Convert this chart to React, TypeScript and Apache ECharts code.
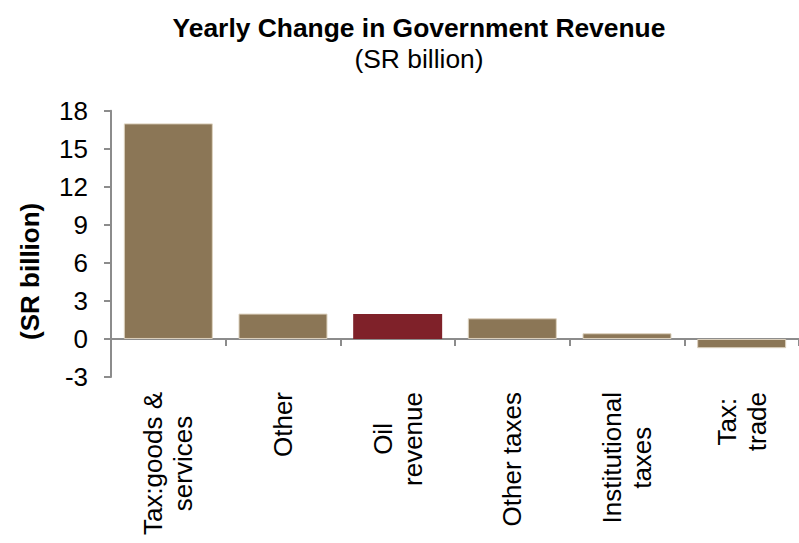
import React, { useEffect, useRef } from "react";
import * as echarts from "echarts";

const titleText = "Yearly Change in Government Revenue";
const subtitleText = "(SR billion)";
const yAxisName = "(SR billion)";

const categories = [
  "Tax:goods &\nservices",
  "Other",
  "Oil\nrevenue",
  "Other taxes",
  "Institutional\ntaxes",
  "Tax:\ntrade",
];
const values = [17.0, 2.0, 1.97, 1.63, 0.45, -0.73];
const highlighted = ["Oil\nrevenue"];

const yMin = -3;
const yMax = 18;
const yStep = 3;

const FONT = "'Liberation Sans', Arial, Helvetica, sans-serif";
const BROWN = "#8b7656";
const RED = "#7f2129";
const AXIS_GRAY = "#8c8c8c";

export default function App() {
  const ref = useRef<HTMLDivElement>(null);

  useEffect(() => {
    if (!ref.current) return;
    const chart = echarts.init(ref.current, null, { renderer: "svg" });

    const seriesData = values.map((v, i) => {
      const isHi = highlighted.includes(categories[i]);
      return {
        value: v,
        itemStyle: isHi
          ? { color: RED, borderWidth: 0 }
          : { color: BROWN, borderColor: "#ddd2bf", borderWidth: 1 },
      };
    });

    const labelFormatter = (val: string) =>
      val
        .split("\n")
        .map((line) => `{c|${line}}`)
        .join("\n");

    chart.setOption({
      animation: false,
      backgroundColor: "#ffffff",
      title: {
        text: titleText,
        subtext: subtitleText,
        left: 414,
        top: 10,
        textAlign: "center",
        itemGap: 5,
        textStyle: {
          fontFamily: FONT,
          fontSize: 26.4,
          fontWeight: "bold",
          color: "#000",
        },
        subtextStyle: {
          fontFamily: FONT,
          fontSize: 26.4,
          fontWeight: "normal",
          color: "#000",
        },
      },
      grid: {
        left: 111,
        right: 0,
        top: 110.7,
        bottom: 166,
        containLabel: false,
      },
      xAxis: [
        {
          type: "category",
          data: categories,
          position: "bottom",
          axisLine: {
            show: true,
            onZero: true,
            lineStyle: { color: AXIS_GRAY, width: 2 },
          },
          axisTick: {
            show: true,
            alignWithLabel: false,
            inside: false,
            length: 7,
            lineStyle: { color: AXIS_GRAY, width: 2 },
          },
          axisLabel: { show: false },
          splitLine: { show: false },
        },
        {
          type: "category",
          data: categories,
          position: "bottom",
          axisLine: { show: false, onZero: false },
          axisTick: { show: false },
          splitLine: { show: false },
          axisLabel: {
            show: true,
            interval: 0,
            rotate: 90,
            margin: 15,
            formatter: labelFormatter,
            rich: {
              c: {
                align: "center",
                fontFamily: FONT,
                fontSize: 26,
                lineHeight: 30,
                color: "#000",
              },
            },
            fontFamily: FONT,
            fontSize: 26,
            lineHeight: 30,
            color: "#000",
          },
        },
      ],
      yAxis: {
        type: "value",
        min: yMin,
        max: yMax,
        interval: yStep,
        name: yAxisName,
        nameLocation: "middle",
        nameRotate: 90,
        nameGap: 68,
        nameTextStyle: {
          fontFamily: FONT,
          fontSize: 26,
          fontWeight: "bold",
          color: "#000",
          padding: [0, 55, 0, 0],
        },
        axisLine: {
          show: true,
          lineStyle: { color: AXIS_GRAY, width: 2 },
        },
        axisTick: {
          show: true,
          inside: false,
          length: 7,
          lineStyle: { color: AXIS_GRAY, width: 2 },
        },
        axisLabel: {
          margin: 23,
          fontFamily: FONT,
          fontSize: 26,
          color: "#000",
        },
        splitLine: { show: false },
      },
      series: [
        {
          type: "bar",
          xAxisIndex: 0,
          data: seriesData,
          barCategoryGap: "22.4%",
        },
      ],
    });

    return () => {
      chart.dispose();
    };
  }, []);

  return (
    <div
      ref={ref}
      style={{
        position: "fixed",
        left: 0,
        top: 0,
        width: 799,
        height: 543,
        background: "#fff",
      }}
    />
  );
}
